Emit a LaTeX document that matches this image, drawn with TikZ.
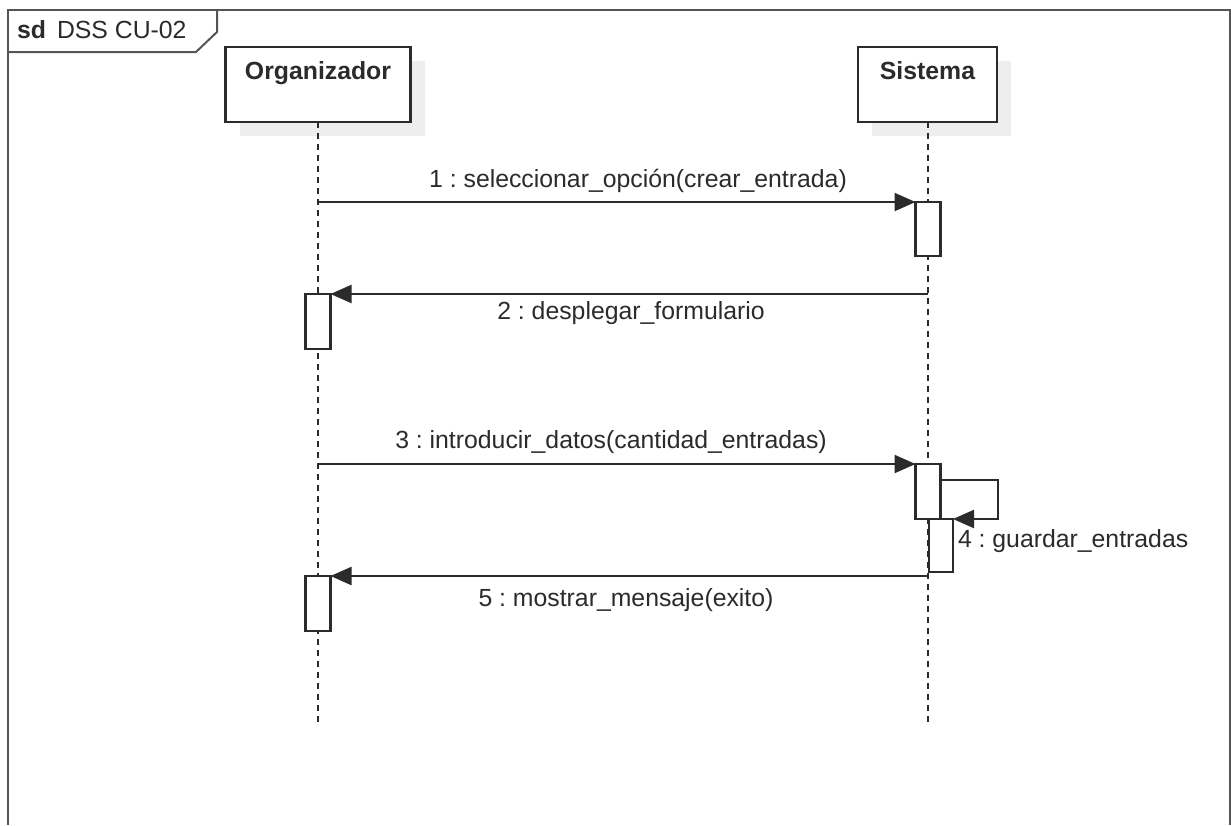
\documentclass[tikz,border=0pt]{standalone}
\usepackage{fontspec}
\setmainfont{Liberation Sans}
\usetikzlibrary{arrows.meta}
\definecolor{ink}{HTML}{2B2B2B}
\definecolor{shade}{HTML}{EEEEEE}
\definecolor{framecol}{HTML}{555555}
\frenchspacing

\begin{document}
\begin{tikzpicture}[x=1pt, y=-1pt,
  every node/.style={inner sep=0pt, outer sep=0pt, text=ink},
  txt/.style={font=\fontsize{24.8}{29}\selectfont},
  boldtxt/.style={font=\fontsize{24.8}{29}\selectfont\bfseries},
  frameline/.style={draw=framecol, line width=2pt},
  headbox/.style={draw=ink, line width=2.2pt, fill=white, minimum height=75pt},
  headshadow/.style={fill=shade, minimum height=75pt},
  life/.style={draw=ink, line width=2pt, dash pattern=on 6pt off 5pt},
  act/.style={draw=ink, line width=2.2pt, fill=white, minimum width=25pt},
  msg/.style={draw=ink, line width=2.2pt, -{Triangle[length=21pt,width=18pt]}}]

  % canvas
  \useasboundingbox (0,0) rectangle (1231,825);
  \fill[white] (0,0) rectangle (1231,825);

  % interaction frame and its name tab
  \draw[frameline] (8,825) -- (8,10) -- (1230,10) -- (1230,825);
  \draw[frameline] (8,52) -- (196,52) -- (217,32) -- (217,10);
  \node[boldtxt, anchor=base west] (sd) at (17,38) {sd};
  \node[txt, anchor=base west] (title) at (57,38) {DSS CU-02};

  % lifeline heads with drop shadows
  \node[headshadow, minimum width=185pt] (orgsh) at (332,98.5) {};
  \node[headbox, minimum width=185pt] (org) at (318,84.5) {};
  \node[boldtxt, anchor=base] (orgname) at (318,79) {Organizador};

  \node[headshadow, minimum width=139pt] (syssh) at (941.5,98.5) {};
  \node[headbox, minimum width=139pt] (sys) at (927.5,84.5) {};
  \node[boldtxt, anchor=base] (sysname) at (927.5,79) {Sistema};

  % lifelines
  \coordinate (orgend) at (318,722);
  \coordinate (sysend) at (928,722);
  \draw[life] (org.south) -- (orgend);
  \draw[life] (sys.south -| sysend) -- (sysend);

  % activation bars
  \node[act, minimum height=54pt] (a1) at (928,229) {};
  \node[act, minimum height=55pt] (a2) at (318,321.5) {};
  \node[act, minimum height=55pt] (a3) at (928,491.5) {};
  \node[act, minimum width=24pt, minimum height=53pt] (a4) at (941,545.5) {};
  \node[act, minimum height=55pt] (a5) at (318,603.5) {};

  % message start points on the lifelines
  \coordinate (m1s) at (318,202);
  \coordinate (m2s) at (928,294);
  \coordinate (m3s) at (318,464);
  \coordinate (m5s) at (928,576);
  \coordinate (s1) at (940.5,480);
  \coordinate (s2) at (998,480);
  \coordinate (s3) at (998,519);

  % messages
  \draw[msg] (m1s) -- (a1.north west);
  \draw[msg] (m2s) -- (a2.north east);
  \draw[msg] (m3s) -- (a3.north west);
  \draw[msg] (s1) -- (s2) -- (s3) -- (a4.north east);
  \draw[msg] (m5s) -- (a5.north east);

  % message labels
  \node[txt] (l1) at (638,181) {1 : seleccionar\_opción(crear\_entrada)};
  \node[txt] (l2) at (631,313) {2 : desplegar\_formulario};
  \node[txt] (l3) at (611,442) {3 : introducir\_datos(cantidad\_entradas)};
  \node[txt, anchor=west] (l4) at (958,541) {4 : guardar\_entradas};
  \node[txt] (l5) at (626,600) {5 : mostrar\_mensaje(exito)};
\end{tikzpicture}
\end{document}
